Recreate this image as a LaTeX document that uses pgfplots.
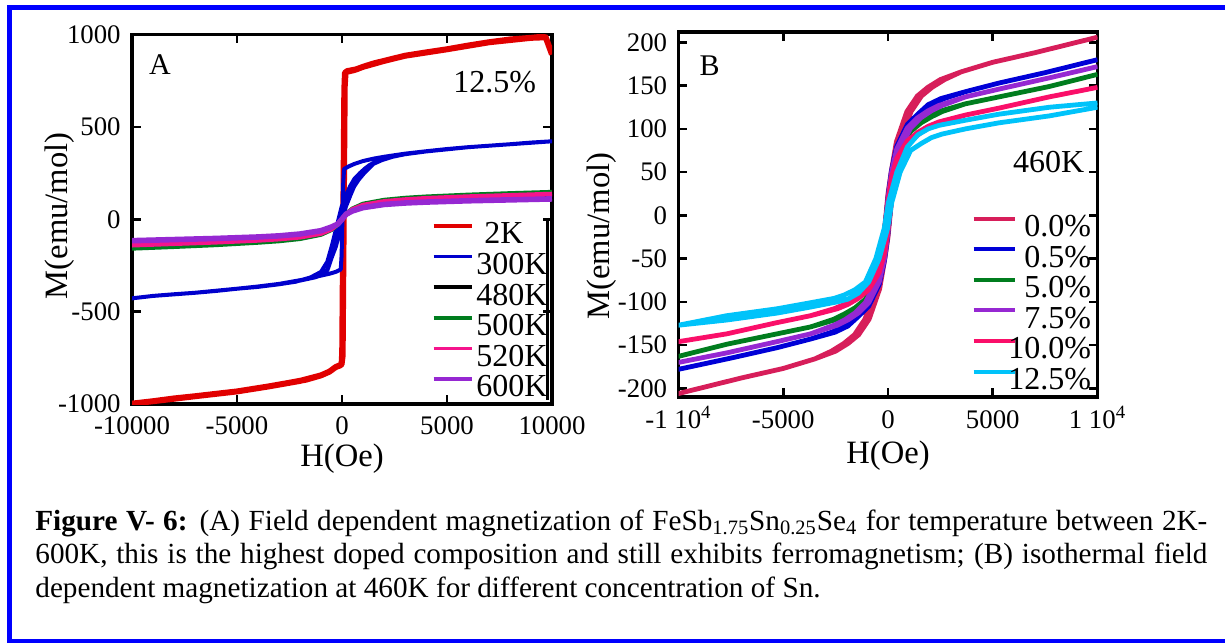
\documentclass[border=0pt]{standalone}
\usepackage{fontspec}
\setmainfont{Liberation Serif}
\usepackage{pgfplots}
\pgfplotsset{compat=1.18}

\definecolor{frameblue}{RGB}{0,0,255}
\definecolor{aRed}{RGB}{225,0,0}
\definecolor{aBlue}{RGB}{0,0,205}
\definecolor{aGreen}{RGB}{0,125,30}
\definecolor{aPink}{RGB}{245,20,140}
\definecolor{aPurple}{RGB}{150,40,210}
\definecolor{bCrimson}{RGB}{215,30,90}
\definecolor{bBlue}{RGB}{0,0,215}
\definecolor{bGreen}{RGB}{0,125,30}
\definecolor{bPurple}{RGB}{150,40,210}
\definecolor{bPink}{RGB}{250,15,105}
\definecolor{bCyan}{RGB}{0,195,250}

\pgfplotsset{
  mystyle/.style={
    scale only axis,
    scaled x ticks=false, scaled y ticks=false,
    axis line style={line width=1.7pt},
    tick align=inside,
    major tick length=4.3pt,
    tick style={line width=1.3pt, black},
    tick label style={font=\fontsize{13.4}{13.4}\selectfont, inner sep=0pt},
    yticklabel style={xshift=-5.5pt},
    xticklabel style={yshift=-6.3pt, text height=9.4pt, text depth=0pt},
    label style={font=\fontsize{16.3}{16.3}\selectfont, inner sep=0pt},
    no markers,
    every axis plot/.append style={line join=round},
    legend style={draw=none, fill=none, inner sep=0pt, outer sep=0pt,
      anchor=north west, font=\fontsize{16}{16}\selectfont, row sep=0pt,
      column sep=1.5pt,
      nodes={inner sep=0pt, text height=11.3pt, text depth=4pt}},
  }
}

\begin{document}
\begin{tikzpicture}
\path[use as bounding box] (0pt,0pt) rectangle (612.5pt,-321pt);
\fill[white] (0pt,0pt) rectangle (612.5pt,-321pt);
\draw[line width=2.5pt, frameblue] (4.6pt,-3.75pt) rectangle (616pt,-320.5pt);

% ---------------- Panel A ----------------
\begin{axis}[mystyle,
  at={(66pt,-17.25pt)}, anchor=north west,
  width=210pt, height=184.75pt,
  xmin=-10000, xmax=10000, ymin=-1000, ymax=1000,
  xtick={-10000,-5000,0,5000,10000},
  xticklabels={-10000,-5000,0,5000,10000},
  xticklabel style={yshift=0.6pt},
  ytick={-1000,-500,0,500,1000},
  yticklabels={-1000,-500,0,500,1000},
  xlabel={H(Oe)}, ylabel={M(emu/mol)},
  xlabel style={at={(axis description cs:0.5,-0.1678)}, anchor=base},
  ylabel style={at={(axis description cs:-0.1536,0.5088)}, anchor=base},
  legend style={at={(axis description cs:0.7136,0.4942)}},
  legend cell align=left,
  legend image code/.code={\draw[#1,line width=1.8pt] (0pt,5.3pt) -- (19pt,5.3pt);},
]
% 2K
\addplot[aRed, line width=3pt] coordinates {
(10000,892) (9700,985) (9000,982) (8000,973) (7000,958) (6000,940) (5000,920)
(4000,903) (3000,885) (2000,857) (1500,843) (1000,825) (600,808) (300,800)
(200,798) (140,792) (110,700) (10,-720) (-20,-786) (-300,-800) (-600,-825)
(-1000,-845) (-1700,-868) (-2500,-885) (-3500,-905) (-5000,-932) (-6000,-945)
(-7000,-958) (-8000,-970) (-9000,-985) (-10000,-998)
(-9000,-985) (-7000,-958) (-5000,-932) (-3500,-905) (-2000,-875) (-1000,-845)
(-600,-825) (-300,-800) (-100,-792) (-20,-785) (30,-740) (130,720) (170,795)
(250,802) (400,805) (700,812) (1000,825) (2000,857) (3000,885) (5000,920)
(7000,958) (9000,982) (9700,990)
};
% 300K
\addplot[aBlue, line width=2pt] coordinates {
(10000,422) (9000,415) (8000,406) (7000,398) (6000,390) (5000,380) (4000,368)
(3000,355) (2000,338) (1500,328) (1000,315) (600,300) (300,285) (100,272)
(60,200) (20,0) (-20,-200) (-60,-272) (-300,-285) (-600,-295) (-1000,-305)
(-1500,-318) (-2000,-330) (-3000,-350) (-4000,-364) (-5000,-376) (-6000,-388)
(-7000,-398) (-8000,-406) (-9000,-415) (-10000,-428)
(-9000,-415) (-7000,-398) (-5000,-376) (-4000,-366) (-3000,-352) (-2200,-338)
(-1500,-315) (-1000,-285) (-700,-230) (-490,-147) (-250,-39) (-14,69)
(200,130) (381,178) (600,220) (857,250) (1100,275) (1333,295) (1700,315)
(2200,335) (3000,353) (4000,367) (6000,390) (8000,406) (10000,422)
(8000,406) (6000,390) (4000,367) (3000,352) (2400,338) (1900,320) (1500,300)
(1057,250) (800,215) (581,178) (400,130) (186,69) (-52,-39) (-290,-147)
(-500,-210) (-690,-274) (-900,-300) (-1300,-315) (-2000,-332) (-3000,-351)
};
% 480K
\addplot[black, line width=2.2pt] coordinates {
(-10000,-128) (-8000,-122) (-6000,-115) (-4000,-106) (-3000,-100) (-2000,-90)
(-1000,-70) (-500,-48) (-200,-24) (0,0) (200,24) (500,48) (1000,70) (2000,88)
(3000,98) (4000,104) (6000,113) (8000,119) (10000,124)
};
% 500K
\addplot[aGreen, line width=2.4pt] coordinates {
(-10000,-157) (-8000,-148) (-6000,-138) (-4000,-125) (-3000,-117) (-2000,-105)
(-1000,-82) (-500,-56) (-200,-28) (0,0) (200,28) (500,56) (1000,82) (2000,103)
(3000,114) (4000,121) (6000,131) (8000,139) (10000,146)
};
% 520K
\addplot[aPink, line width=2.4pt] coordinates {
(-10000,-140) (-8000,-132) (-6000,-124) (-4000,-114) (-3000,-107) (-2000,-97)
(-1000,-77) (-500,-53) (-200,-26) (0,0) (200,26) (500,53) (1000,76) (2000,96)
(3000,106) (4000,113) (6000,122) (8000,129) (10000,136)
};
% 600K
\addplot[aPurple, line width=2.8pt] coordinates {
(-10000,-116) (-8000,-110) (-6000,-104) (-4000,-96) (-3000,-90) (-2000,-80)
(-1000,-62) (-500,-42) (-200,-26) (0,0) (200,28) (500,45) (1000,63) (2000,80)
(3000,88) (4000,93) (6000,100) (8000,105) (10000,110)
};
\legend{\ 2K,300K,480K,500K,520K,600K}
\draw[line width=1.5pt] (axis cs:9762,8) -- (axis cs:9762,-978);
\node[font=\fontsize{15}{15}\selectfont] at (axis cs:-8667,837) {A};
\node[font=\fontsize{16}{16}\selectfont] at (axis cs:7267,740) {12.5\%};
\end{axis}

% ---------------- Panel B ----------------
\begin{axis}[mystyle,
  at={(339.25pt,-16pt)}, anchor=north west,
  width=209.5pt, height=182.5pt,
  xmin=-10000, xmax=10000, ymin=-210, ymax=212,
  xtick={-10000,-5000,0,5000,10000},
  xticklabels={-1 10\textsuperscript{4},-5000,0,5000,1 10\textsuperscript{4}},
  ytick={-200,-150,-100,-50,0,50,100,150,200},
  yticklabels={-200,-150,-100,-50,0,50,100,150,200},
  xlabel={H(Oe)}, ylabel={M(emu/mol)},
  xlabel style={at={(axis description cs:0.5,-0.181)}, anchor=base},
  ylabel style={at={(axis description cs:-0.1647,0.441)}, anchor=base},
  legend style={at={(axis description cs:0.6998,0.5014)}},
  legend cell align=right,
  legend image code/.code={\draw[#1,line width=2pt] (0pt,5.3pt) -- (20.8pt,5.3pt);},
]
% 0.0%
\addplot[bCrimson, line width=2.4pt] coordinates {
(10000,206) (8500,197) (7000,188) (5000,177) (3500,166) (2500,157) (1900,148)
(1400,138) (900,120) (400,85) (150,50) (0,25) (-100,0) (-200,-25) (-350,-50)
(-600,-85) (-1100,-120) (-1600,-138) (-2100,-148) (-2700,-157) (-3500,-166)
(-5000,-177) (-7000,-188) (-8500,-197) (-10000,-206)
(-8500,-197) (-7000,-188) (-5000,-177) (-3500,-166) (-2500,-157) (-1900,-148)
(-1400,-138) (-900,-120) (-400,-85) (-150,-50) (0,-25) (100,0) (200,25)
(350,50) (600,85) (1100,120) (1600,138) (2100,148) (2700,157) (3500,166)
(5000,177) (7000,188) (8500,197) (10000,206)
};
% 0.5%
\addplot[bBlue, line width=2.4pt] coordinates {
(10000,180) (7500,165) (5300,153) (3700,143) (2520,135) (1920,128) (1420,117)
(920,105) (420,80) (170,52) (20,25) (-80,0) (-180,-25) (-330,-52) (-580,-80)
(-1080,-105) (-1580,-117) (-2080,-128) (-2680,-135) (-3700,-143) (-5300,-153)
(-7500,-165) (-10000,-178)
(-7500,-165) (-5300,-153) (-3700,-143) (-2520,-135) (-1920,-128) (-1420,-117)
(-920,-105) (-420,-80) (-170,-52) (-20,-25) (80,0) (180,25) (330,52) (580,80)
(1080,105) (1580,117) (2080,128) (2680,135) (3700,143) (5300,153) (7500,165)
(10000,180)
};
% 5.0%
\addplot[bGreen, line width=2.4pt] coordinates {
(10000,163) (7700,149) (5300,137) (3700,129) (2420,120) (1920,114) (1420,107)
(920,97) (420,74) (170,48) (20,22) (-80,0) (-180,-22) (-330,-48) (-580,-74)
(-1080,-97) (-1580,-107) (-2080,-114) (-2580,-120) (-3700,-129) (-5300,-137)
(-7700,-149) (-10000,-163)
(-7700,-149) (-5300,-137) (-3700,-129) (-2420,-120) (-1920,-114) (-1420,-107)
(-920,-97) (-420,-74) (-170,-48) (-20,-22) (80,0) (180,22) (330,48) (580,74)
(1080,97) (1580,107) (2080,114) (2580,120) (3700,129) (5300,137) (7700,149)
(10000,163)
};
% 7.5%
\addplot[bPurple, line width=2.4pt] coordinates {
(10000,172) (7700,159) (5300,146) (3700,137) (2420,127) (1920,121) (1420,113)
(920,101) (420,77) (170,50) (20,23) (-80,0) (-180,-23) (-330,-50) (-580,-77)
(-1080,-101) (-1580,-113) (-2080,-121) (-2580,-127) (-3700,-137) (-5300,-146)
(-7700,-159) (-10000,-170)
(-7700,-159) (-5300,-146) (-3700,-137) (-2420,-127) (-1920,-121) (-1420,-113)
(-920,-101) (-420,-77) (-170,-50) (-20,-23) (80,0) (180,23) (330,50) (580,77)
(1080,101) (1580,113) (2080,121) (2580,127) (3700,137) (5300,146) (7700,159)
(10000,172)
};
% 10.0%
\addplot[bPink, line width=2.4pt] coordinates {
(10000,148) (7700,137) (5300,124) (3700,116) (2420,108) (1920,103) (1420,96)
(920,86) (420,66) (170,44) (20,20) (-80,0) (-180,-20) (-330,-44) (-580,-66)
(-1080,-86) (-1580,-96) (-2080,-103) (-2580,-108) (-3700,-116) (-5300,-124)
(-7700,-137) (-10000,-146)
(-7700,-137) (-5300,-124) (-3700,-116) (-2420,-108) (-1920,-103) (-1420,-96)
(-920,-86) (-420,-66) (-170,-44) (-20,-20) (80,0) (180,20) (330,44) (580,66)
(1080,86) (1580,96) (2080,103) (2580,108) (3700,116) (5300,124) (7700,137)
(10000,148)
};
% 12.5%
\addplot[bCyan, line width=2.4pt] coordinates {
(10000,130) (7700,125) (5300,117) (3700,110) (2420,104) (1920,100) (1420,93)
(920,79) (420,50) (170,28) (20,15) (-80,0) (-180,-15) (-330,-28) (-580,-50)
(-1080,-77) (-1580,-86) (-2080,-92) (-2580,-96) (-3700,-101) (-5300,-108)
(-7700,-116) (-10000,-127)
(-7700,-121) (-5300,-113) (-3700,-106) (-2420,-100) (-1920,-97) (-1420,-90)
(-920,-77) (-420,-50) (-170,-28) (-20,-15) (80,0) (180,15) (330,28) (580,50)
(1080,75) (1580,83) (2080,90) (2580,94) (3700,100) (5300,107) (7700,115)
(10000,125)
};
\legend{0.0\%,0.5\%,5.0\%,7.5\%,\hspace{-6pt}10.0\%,\hspace{-6pt}12.5\%}
\node[font=\fontsize{15}{15}\selectfont] at (axis cs:-8511,173) {B};
\node[font=\fontsize{16}{16}\selectfont] at (axis cs:7671,62) {460K};
\end{axis}

% ---------------- Caption ----------------
\node[anchor=base west, inner sep=0pt, text width=586pt, align=justify,
      font=\fontsize{14.6}{16.8}\selectfont] at (17.5pt,-265pt)
{\textbf{Figure V- 6:} (A) Field dependent magnetization of FeSb\textsubscript{1.75}Sn\textsubscript{0.25}Se\textsubscript{4} for temperature between 2K-\linebreak 600K, this is the highest doped composition and still exhibits ferromagnetism; (B) isothermal field\linebreak dependent magnetization at 460K for different concentration of Sn.};
\end{tikzpicture}
\end{document}
